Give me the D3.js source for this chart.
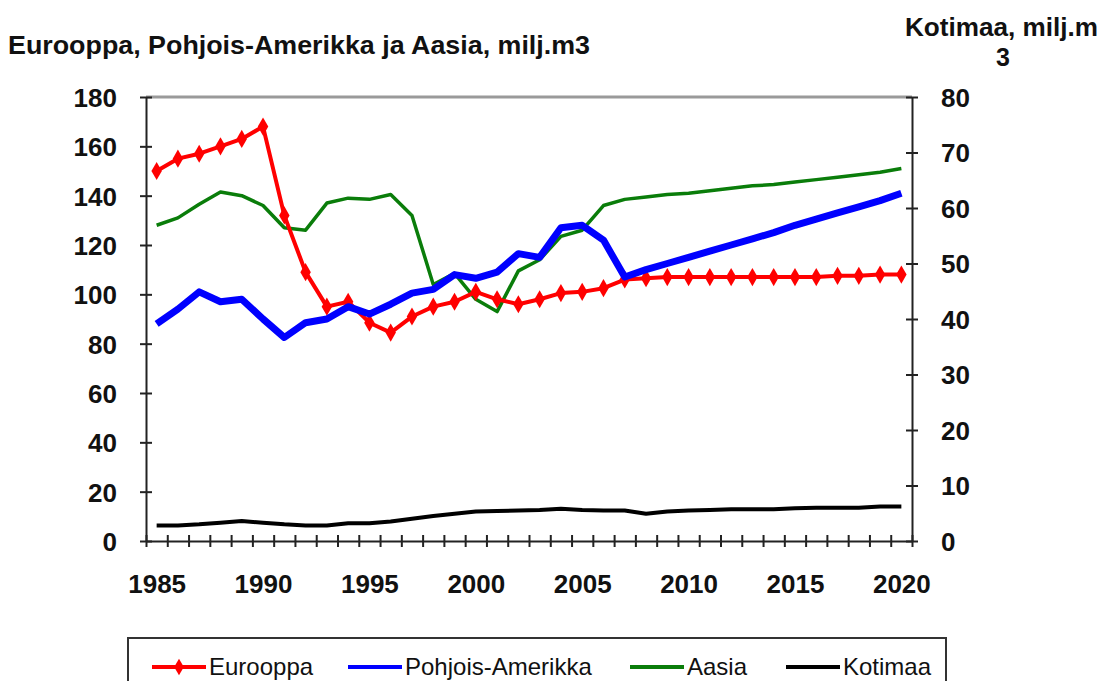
<!DOCTYPE html>
<html>
<head>
<meta charset="utf-8">
<script src="https://cdn.jsdelivr.net/npm/d3@7"></script>
<style>
  body { margin: 0; background: #fff; }
  svg { display: block; font-family: "Liberation Sans", Arial, sans-serif; }
</style>
</head>
<body>
<svg id="chart" width="1102" height="681"></svg>
<script>
// vuodet
const years = d3.range(1985, 2021);
// milj. m3, vasen asteikko
const eurooppa = [150, 155, 157, 160, 163, 168, 132, 109, 95, 97, 88.5, 84.5, 91, 95, 97, 101,
  98, 96, 98, 100.5, 101, 102.5, 106, 106.5, 107, 107, 107, 107, 107, 107, 107, 107, 107.5, 107.5, 108, 108];
const pohjoisAmerikka = [88, 94, 101, 97, 98, 90, 82.5, 88.5, 90, 95, 92, 96, 100.5, 102, 108, 106.5,
  109, 116.5, 115, 127, 128, 122, 107, 110, 112.5, 115, 117.5, 120, 122.5, 125, 128, 130.5, 133, 135.5, 138, 141];
const aasia = [128, 131, 136.5, 141.5, 140, 136, 127, 126, 137, 139, 138.5, 140.5, 132, 104, 108.5, 98,
  93, 109.5, 114, 123.5, 126, 136, 138.5, 139.5, 140.5, 141, 142, 143, 144, 144.5, 145.5, 146.5, 147.5, 148.5, 149.5, 151];
// milj. m3, oikea asteikko
const kotimaa = [2.8, 2.8, 3.0, 3.3, 3.6, 3.3, 3.0, 2.8, 2.8, 3.2, 3.2, 3.5, 4.0, 4.5, 4.9, 5.3,
  5.4, 5.5, 5.6, 5.8, 5.6, 5.5, 5.5, 4.9, 5.3, 5.5, 5.6, 5.7, 5.7, 5.7, 5.9, 6.0, 6.0, 6.0, 6.2, 6.2];

const leftTicks = d3.range(0, 181, 20);
const rightTicks = d3.range(0, 81, 10);
const yearLabels = d3.range(1985, 2021, 5);

const svg = d3.select("#chart");
const pLeft = 146, pRight = 912, pTop = 97, pBottom = 541;

let x = d3.scaleLinear().domain([1984.5, 2020.5]).range([pLeft, pRight]);
let yL = d3.scaleLinear().domain([0, 180]).range([pBottom, pTop]);
let yR = d3.scaleLinear().domain([0, 80]).range([pBottom, pTop]);

// plot area border (top)
svg.append("line")
  .attr("x1", pLeft).attr("x2", pRight).attr("y1", pTop).attr("y2", pTop)
  .attr("stroke", "#9a9a9a").attr("stroke-width", 3);

// axes
function styleAxis(g) {
  g.select(".domain").attr("stroke", "#222").attr("stroke-width", 2);
  g.selectAll(".tick line").attr("stroke", "#222").attr("stroke-width", 2);
  g.selectAll("text").attr("fill", "#111").style("font-size", "26px").style("font-weight", "bold");
}

let gL = svg.append("g").attr("transform", "translate(" + pLeft + ",0)")
  .call(d3.axisLeft(yL).tickValues(leftTicks).tickSizeOuter(0).tickPadding(23));
styleAxis(gL);
gL.selectAll(".tick line").attr("x1", -6).attr("x2", 6);
gL.selectAll("text").attr("dy", "0.36em");

let gR = svg.append("g").attr("transform", "translate(" + pRight + ",0)")
  .call(d3.axisRight(yR).tickValues(rightTicks).tickSizeOuter(0).tickPadding(23));
styleAxis(gR);
gR.selectAll(".tick line").attr("x1", -6).attr("x2", 6);
gR.selectAll("text").attr("dy", "0.36em");

let gX = svg.append("g").attr("transform", "translate(0," + pBottom + ")")
  .call(d3.axisBottom(x).tickValues(d3.range(1984.5, 2021, 1)).tickFormat("").tickSizeOuter(0));
styleAxis(gX);
gX.selectAll(".tick line").attr("y1", -6).attr("y2", 6);

let gXL = svg.append("g").attr("transform", "translate(0," + pBottom + ")")
  .call(d3.axisBottom(x).tickValues(yearLabels).tickFormat(d3.format("d")).tickSize(0).tickPadding(0));
gXL.select(".domain").remove();
styleAxis(gXL);
gXL.selectAll("text").attr("y", 52).attr("dy", 0);

// lines
const lineL = d3.line().x((d, i) => x(years[i])).y(d => yL(d));
const lineR = d3.line().x((d, i) => x(years[i])).y(d => yR(d));

svg.append("path").datum(kotimaa).attr("d", lineR)
  .attr("fill", "none").attr("stroke", "#000").attr("stroke-width", 4).attr("stroke-linejoin", "round");
svg.append("path").datum(aasia).attr("d", lineL)
  .attr("fill", "none").attr("stroke", "#0a7d0a").attr("stroke-width", 3.5).attr("stroke-linejoin", "round");
svg.append("path").datum(eurooppa).attr("d", lineL)
  .attr("fill", "none").attr("stroke", "#ff0000").attr("stroke-width", 4).attr("stroke-linejoin", "round");
svg.selectAll(".eu").data(eurooppa).enter().append("path")
  .attr("class", "eu")
  .attr("d", d3.symbol(d3.symbolDiamond, 95))
  .attr("transform", (d, i) => "translate(" + x(years[i]) + "," + yL(d) + ")")
  .attr("fill", "#ff0000");
svg.append("path").datum(pohjoisAmerikka).attr("d", lineL)
  .attr("fill", "none").attr("stroke", "#0000ff").attr("stroke-width", 7).attr("stroke-linejoin", "round");

// titles
svg.append("text").attr("x", 8).attr("y", 54)
  .attr("textLength", 582).attr("lengthAdjust", "spacingAndGlyphs")
  .style("font-size", "25px").style("font-weight", "bold").attr("fill", "#111")
  .text("Eurooppa, Pohjois-Amerikka ja Aasia, milj.m3");
svg.append("text").attr("x", 1098).attr("y", 36).attr("text-anchor", "end")
  .attr("textLength", 193).attr("lengthAdjust", "spacingAndGlyphs")
  .style("font-size", "25px").style("font-weight", "bold").attr("fill", "#111")
  .text("Kotimaa, milj.m");
svg.append("text").attr("x", 1003).attr("y", 66).attr("text-anchor", "middle")
  .style("font-size", "25px").style("font-weight", "bold").attr("fill", "#111")
  .text("3");

// legend
const legendNames = ["Eurooppa", "Pohjois-Amerikka", "Aasia", "Kotimaa"];
const legendColors = ["#ff0000", "#0000ff", "#0a7d0a", "#000"];
const legendX = [152, 348, 630, 786];

svg.append("rect").attr("x", 128).attr("y", 638).attr("width", 818).attr("height", 80)
  .attr("fill", "none").attr("stroke", "#333").attr("stroke-width", 2);

let lg = svg.selectAll(".lg").data(legendNames).enter().append("g")
  .attr("class", "lg").attr("transform", (d, i) => "translate(" + legendX[i] + ",667)");
lg.append("line").attr("x1", 0).attr("x2", 54).attr("y1", 0).attr("y2", 0)
  .attr("stroke", (d, i) => legendColors[i]).attr("stroke-width", 4);
lg.filter((d, i) => i === 0).append("path")
  .attr("d", d3.symbol(d3.symbolDiamond, 80)).attr("transform", "translate(27,0)").attr("fill", "#ff0000");
lg.append("text").attr("x", 57).attr("y", 8)
  .style("font-size", "24px").attr("fill", "#111").text(d => d);
</script>
</body>
</html>
